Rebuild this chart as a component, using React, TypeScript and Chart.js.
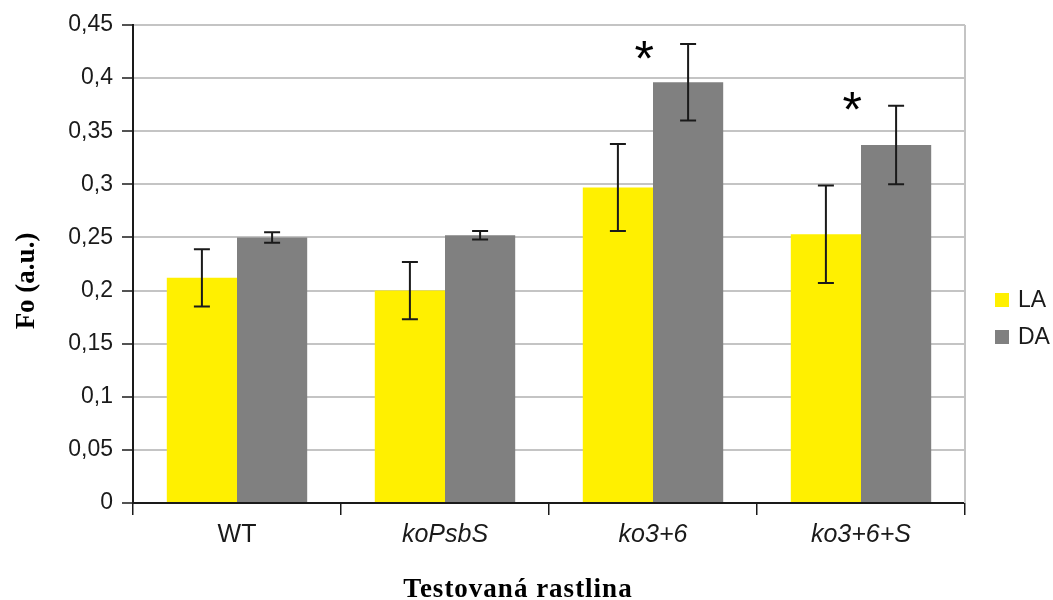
import React, { useEffect, useRef } from "react";
import { Chart, registerables } from "chart.js";

Chart.register(...registerables);

const categories = ["WT", "koPsbS", "ko3+6", "ko3+6+S"];
const italicLabels = [false, true, true, true];
const laValues = [0.212, 0.2, 0.297, 0.253];
const laErrors = [0.027, 0.027, 0.041, 0.046];
const daValues = [0.25, 0.252, 0.396, 0.337];
const daErrors = [0.005, 0.004, 0.036, 0.037];
const asteriskValues = [null, null, 0.426, 0.378];
const seriesNames = ["LA", "DA"];
const seriesColors = ["#FFF000", "#808080"];
const yTitle = "Fo (a.u.)";
const xTitle = "Testovaná rastlina";

const errorBarPlugin = {
  id: "errorBars",
  afterDatasetsDraw(chart: any) {
    const ctx = chart.ctx;
    const y = chart.scales.y;
    const errs = [laErrors, daErrors];
    ctx.save();
    ctx.strokeStyle = "#1a1a1a";
    ctx.lineWidth = 2;
    chart.data.datasets.forEach((ds: any, di: number) => {
      const meta = chart.getDatasetMeta(di);
      meta.data.forEach((bar: any, i: number) => {
        const v = ds.data[i];
        const e = errs[di][i];
        const x = bar.x;
        const yt = y.getPixelForValue(v + e);
        const yb = y.getPixelForValue(v - e);
        ctx.beginPath();
        ctx.moveTo(x, yt);
        ctx.lineTo(x, yb);
        ctx.moveTo(x - 8, yt);
        ctx.lineTo(x + 8, yt);
        ctx.moveTo(x - 8, yb);
        ctx.lineTo(x + 8, yb);
        ctx.stroke();
      });
    });
    // asterisks
    ctx.fillStyle = "#000";
    ctx.font = "50px 'Liberation Sans'";
    ctx.textAlign = "left";
    ctx.textBaseline = "alphabetic";
    const m = ctx.measureText("*");
    asteriskValues.forEach((a, i) => {
      if (a == null) return;
      const cx = chart.scales.x.getPixelForValue(i) - 9;
      const cy = y.getPixelForValue(a);
      const w = m.actualBoundingBoxRight + m.actualBoundingBoxLeft;
      ctx.fillText(
        "*",
        cx - w / 2 + m.actualBoundingBoxLeft,
        cy + (m.actualBoundingBoxAscent - m.actualBoundingBoxDescent) / 2
      );
    });
    ctx.restore();
  },
  afterDraw(chart: any) {
    const ctx = chart.ctx;
    const a = chart.chartArea;
    ctx.save();
    // right border
    ctx.strokeStyle = "#c4c4c4";
    ctx.lineWidth = 2;
    ctx.beginPath();
    ctx.moveTo(a.right, a.top);
    ctx.lineTo(a.right, a.bottom);
    ctx.stroke();
    // legend
    ctx.font = "23px 'Liberation Sans'";
    ctx.textBaseline = "middle";
    ctx.textAlign = "left";
    seriesNames.forEach((n, i) => {
      const cy = 300 + i * 37;
      ctx.fillStyle = seriesColors[i];
      ctx.fillRect(a.right + 30, cy - 7, 14, 14);
      ctx.fillStyle = "#1a1a1a";
      ctx.fillText(n, a.right + 53, cy + 1);
    });
    // axis titles
    ctx.fillStyle = "#000";
    ctx.font = "bold 27px 'Liberation Serif'";
    ctx.textAlign = "center";
    ctx.textBaseline = "alphabetic";
    (ctx as any).letterSpacing = "1px";
    ctx.fillText(xTitle, 518, 597);
    (ctx as any).letterSpacing = "0px";
    ctx.translate(34, 281);
    ctx.rotate(-Math.PI / 2);
    ctx.fillText(yTitle, 0, 0);
    ctx.restore();
  },
};

export default function App() {
  const ref = useRef<HTMLCanvasElement>(null);
  useEffect(() => {
    if (!ref.current) return;
    const chart = new Chart(ref.current, {
      type: "bar",
      data: {
        labels: categories,
        datasets: [
          { label: seriesNames[0], data: laValues, backgroundColor: seriesColors[0] },
          { label: seriesNames[1], data: daValues, backgroundColor: seriesColors[1] },
        ],
      },
      plugins: [errorBarPlugin],
      options: {
        animation: false,
        responsive: false,
        maintainAspectRatio: false,
        layout: { padding: { top: 25, right: 88, left: 0, bottom: 0 } },
        datasets: { bar: { categoryPercentage: 0.675, barPercentage: 1 } },
        plugins: { legend: { display: false }, tooltip: { enabled: false } },
        scales: {
          x: {
            afterFit: (s: any) => { s.height = 97; },
            grid: {
              offset: true,
              drawOnChartArea: false,
              color: "#1a1a1a",
              tickLength: 12,
              lineWidth: 1.5,
            },
            border: { color: "#1a1a1a", width: 2 },
            ticks: {
              padding: 5,
              color: "#1a1a1a",
              font: (c: any) => ({
                family: "'Liberation Sans'",
                size: 25,
                style: italicLabels[c.index] ? "italic" : "normal",
              }),
            },
          },
          y: {
            min: 0,
            max: 0.45,
            afterFit: (s: any) => { s.width = 133; },
            grid: {
              color: "#c4c4c4",
              lineWidth: 2,
              tickColor: "#1a1a1a",
              tickWidth: 1.5,
              tickLength: 11,
            },
            border: { color: "#1a1a1a", width: 2 },
            ticks: {
              stepSize: 0.05,
              padding: 9,
              color: "#1a1a1a",
              font: { family: "'Liberation Sans'", size: 23 },
              callback: (v: any) => parseFloat(Number(v).toFixed(2)).toString().replace(".", ","),
            },
          },
        },
      },
    });
    return () => chart.destroy();
  }, []);
  return (
    <div style={{ position: "absolute", left: 0, top: 0, width: 1053, height: 600 }}>
      <canvas ref={ref} width={1053} height={600} style={{ width: 1053, height: 600 }} />
    </div>
  );
}
